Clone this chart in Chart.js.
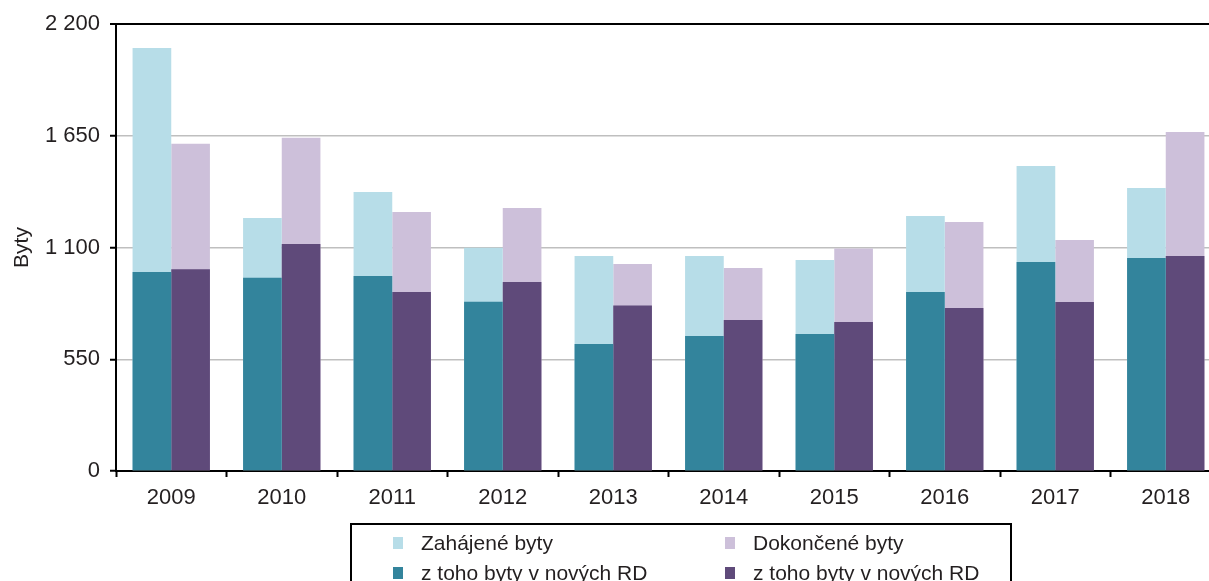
<!DOCTYPE html>
<html>
<head>
<meta charset="utf-8">
<script src="https://cdn.jsdelivr.net/npm/chart.js@4"></script>
<style>
  html, body { margin: 0; padding: 0; background: #fff; overflow: hidden; }
  #wrap { position: absolute; left: 0; top: 0; width: 1221px; height: 581px; }
  #legend {
    position: absolute; left: 350px; top: 523px; width: 662px; height: 90px;
    border: 2px solid #000; box-sizing: border-box;
    font-family: "Liberation Sans", Arial, sans-serif; font-size: 21px; color: #231f20;
  }
  .item { position: absolute; white-space: nowrap; line-height: 24px; }
  .sw { position: absolute; left: -28px; top: 6px; width: 10px; height: 12px; }
</style>
</head>
<body>
<div id="wrap"><canvas id="myChart"></canvas></div>
<div id="legend"></div>
<script>
// years and values
const years = ['2009', '2010', '2011', '2012', '2013', '2014', '2015', '2016', '2017', '2018'];
const zahajene = [2082, 1245, 1373, 1099, 1058, 1058, 1038, 1255, 1501, 1393];
const zahajeneRD = [979, 951, 960, 833, 625, 664, 674, 881, 1029, 1048];
const dokoncene = [1611, 1640, 1275, 1294, 1019, 999, 1095, 1225, 1137, 1668];
const dokonceneRD = [993, 1117, 881, 930, 814, 743, 733, 802, 832, 1058];
const yTicks = [0, 550, 1100, 1650, 2200];

const colors = {
    zah: '#b7dde8',
    zahRD: '#33849c',
    dok: '#cdc0da',
    dokRD: '#5f4a7a'
};

const font = { family: '"Liberation Sans", Arial, sans-serif', size: 22 };

// legend in a box under the chart, two columns
const legendItems = [
    { text: 'Zahájené byty', color: colors.zah, x: 69, y: 6 },
    { text: 'Dokončené byty', color: colors.dok, x: 401, y: 6 },
    { text: 'z toho byty v nových RD', color: colors.zahRD, x: 69, y: 36 },
    { text: 'z toho byty v nových RD', color: colors.dokRD, x: 401, y: 36 }
];
const legendEl = document.getElementById('legend');
legendItems.forEach(function(it) {
    const d = document.createElement('div');
    d.className = 'item';
    d.style.left = it.x + 'px';
    d.style.top = it.y + 'px';
    d.innerHTML = '<span class="sw" style="background:' + it.color + '"></span>' + it.text;
    legendEl.appendChild(d);
});

const data = {
    labels: years,
    datasets: [{
        label: 'z toho byty v nových RD',
        data: zahajeneRD,
        backgroundColor: colors.zahRD,
        stack: 'zah',
        order: 1
    }, {
        label: 'Zahájené byty',
        data: zahajene,
        backgroundColor: colors.zah,
        stack: 'zah',
        order: 2
    }, {
        label: 'z toho byty v nových RD',
        data: dokonceneRD,
        backgroundColor: colors.dokRD,
        stack: 'dok',
        order: 1
    }, {
        label: 'Dokončené byty',
        data: dokoncene,
        backgroundColor: colors.dok,
        stack: 'dok',
        order: 2
    }]
};

const config = {
    type: 'bar',
    data,
    options: {
        responsive: true,
        maintainAspectRatio: false,
        animation: false,
        categoryPercentage: 0.7,
        barPercentage: 1.0,
        layout: { padding: { top: 24, right: 0, bottom: 0, left: 0 } },
        plugins: {
            legend: { display: false },
            tooltip: { enabled: false }
        },
        scales: {
            x: {
                grid: {
                    offset: true,
                    drawOnChartArea: false,
                    tickColor: '#000',
                    tickLength: 6,
                    tickWidth: 2
                },
                border: { color: '#000', width: 2 },
                ticks: { color: '#231f20', font: font, padding: 8, maxRotation: 0 },
                afterFit: function(s) { s.height = 110; }
            },
            y: {
                stacked: false,
                min: 0,
                max: 2200,
                afterBuildTicks: function(s) {
                    s.ticks = yTicks.map(v => ({ value: v }));
                },
                grid: {
                    color: function(ctx) {
                        return ctx.tick && ctx.tick.value === 2200 ? '#000' : '#bfbfbf';
                    },
                    lineWidth: function(ctx) {
                        return ctx.tick && ctx.tick.value === 2200 ? 2 : 1.5;
                    },
                    tickColor: '#000',
                    tickLength: 6,
                    tickWidth: 2
                },
                border: { color: '#000', width: 2 },
                ticks: {
                    color: '#231f20',
                    font: font,
                    padding: 10,
                    callback: function(value) {
                        return String(value).replace(/\B(?=(\d{3})+(?!\d))/g, ' ');
                    }
                },
                title: {
                    display: true,
                    text: 'Byty',
                    color: '#231f20',
                    font: { family: font.family, size: 21 },
                    padding: { top: 10, bottom: 0 }
                },
                afterFit: function(s) { s.width = 116; }
            }
        }
    }
};

new Chart(document.getElementById('myChart'), config);
</script>
</body>
</html>
